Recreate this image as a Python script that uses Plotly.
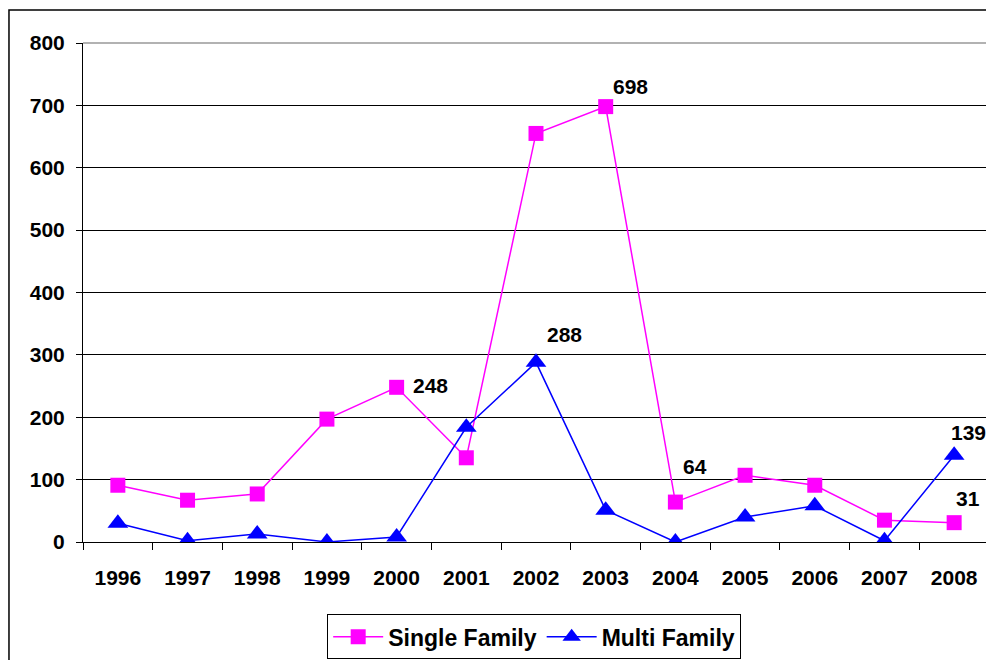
import plotly.graph_objects as go

years = ["1996", "1997", "1998", "1999", "2000", "2001", "2002", "2003", "2004", "2005", "2006", "2007", "2008"]
single_family = [91, 67, 77, 197, 248, 135, 655, 698, 64, 107, 91, 35, 31]
multi_family = [30, 2, 13, 0, 8, 184, 288, 51, 0, 40, 58, 2, 139]

FONT = "Arial, Liberation Sans, sans-serif"
FS = 21

fig = go.Figure()
fig.add_trace(go.Scatter(
    x=years, y=single_family, name="Single Family", mode="lines+markers",
    line=dict(color="#FF00FF", width=1.5),
    marker=dict(symbol="square", size=15, color="#FF00FF"),
))
fig.add_trace(go.Scatter(
    x=years, y=multi_family, name="Multi Family", mode="lines+markers",
    line=dict(color="#0000FF", width=1.5),
    marker=dict(symbol="triangle-up", size=18, color="#0000FF"),
))

# data labels: (series, index, xshift, yshift)
labels = [
    (single_family, 4, 34, 2),
    (single_family, 7, 25, 20),
    (multi_family, 6, 28, 28),
    (single_family, 8, 20, 36),
    (multi_family, 12, 14, 23),
    (single_family, 12, 14, 24),
]
for series, i, xs, ys in labels:
    fig.add_annotation(
        x=i, y=series[i], xref="x", yref="y", text=str(series[i]), showarrow=False,
        xshift=xs, yshift=ys, font=dict(family=FONT, size=FS, color="black", weight="bold"),
    )

# outer chart border
fig.add_shape(type="rect", xref="paper", yref="paper",
              x0=-0.0817, x1=1.03, y0=-0.3, y1=1.066,
              line=dict(color="black", width=1.5), layer="below")

fig.update_layout(
    template="none",
    width=986, height=652,
    margin=dict(l=75, r=5, t=35, b=118),
    paper_bgcolor="white", plot_bgcolor="white",
    font=dict(family=FONT, size=FS, color="black", weight="bold"),
    showlegend=True,
    legend=dict(
        orientation="h", x=0.498, xanchor="center",
        yref="container", y=0.07, yanchor="top",
        bordercolor="black", borderwidth=1, bgcolor="white",
        itemwidth=50,
        font=dict(family=FONT, size=23, color="black", weight="bold"),
    ),
    xaxis=dict(
        type="category", range=[-0.5, 12.5], tickson="boundaries", ticks="outside", ticklen=7,
        tickcolor="black", showline=True, linecolor="black", linewidth=1,
        showgrid=False, automargin=False, tickangle=0, ticklabelstandoff=17,
        tickfont=dict(family=FONT, size=FS, color="black", weight="bold"),
    ),
    yaxis=dict(
        range=[0, 800], dtick=100, ticks="outside", ticklen=6, tickcolor="black",
        showline=True, linecolor="black", linewidth=1, automargin=False,
        showgrid=True, gridcolor="black", gridwidth=1, zeroline=False,
        ticklabelstandoff=7,
        tickfont=dict(family=FONT, size=FS, color="black", weight="bold"),
    ),
)

# gray top/right plot border
fig.add_shape(type="line", xref="paper", yref="paper", x0=0, x1=1, y0=1, y1=1,
              line=dict(color="#999999", width=1.5))
fig.add_shape(type="line", xref="paper", yref="paper", x0=1, x1=1, y0=0, y1=1,
              line=dict(color="#999999", width=1.5))

fig.write_html("out.html")
